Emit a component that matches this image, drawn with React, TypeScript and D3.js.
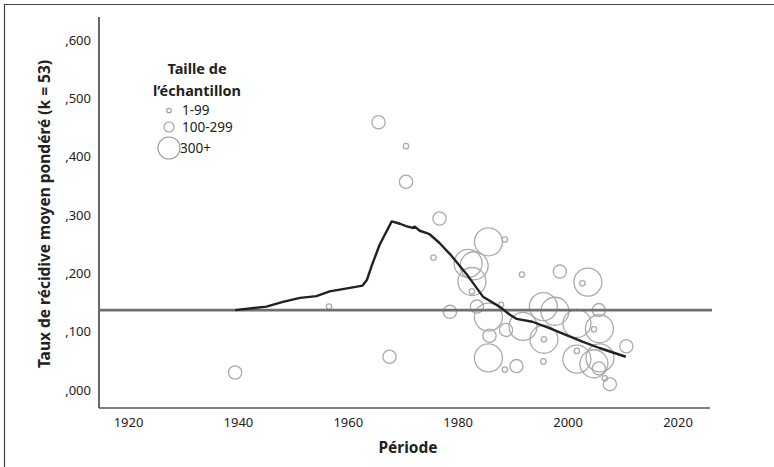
import { useEffect, useRef } from 'react';
import * as d3 from 'd3';

// Loess trend line (year, weighted recidivism rate)
const trendYears = [1939.4, 1945.1, 1948.1, 1951.2, 1954.2, 1956.6, 1959.0, 1962.6, 1963.4, 1964.3, 1965.7, 1967.9, 1969.4, 1970.5, 1971.7, 1972.1, 1973.0, 1974.3, 1974.8, 1976.6, 1978.5, 1981.5, 1984.5, 1987.5, 1989.4, 1990.6, 1993.5, 1996.6, 1999.7, 2002.6, 2005.7, 2010.5];
const trendValues = [0.137, 0.143, 0.151, 0.158, 0.161, 0.169, 0.173, 0.179, 0.189, 0.214, 0.249, 0.289, 0.285, 0.281, 0.278, 0.280, 0.273, 0.269, 0.267, 0.252, 0.233, 0.199, 0.160, 0.143, 0.129, 0.122, 0.117, 0.106, 0.094, 0.083, 0.072, 0.057];

// Individual studies: year, rate, sample size class (0: 1-99, 1: 100-299, 2: 300+)
const studyYears = [1939.4, 1956.5, 1965.5, 1970.5, 1970.5, 1967.5, 1976.6, 1975.5, 1985.5, 1988.5, 1981.8, 1982.9, 1982.5, 1982.5, 1991.6, 1998.5, 2003.6, 2002.6, 1978.5, 1983.4, 1987.8, 1985.5, 1995.5, 1997.6, 2005.6, 1991.8, 1988.7, 1985.7, 2001.6, 2005.7, 2004.7, 1995.6, 1995.6, 2010.6, 1985.5, 1988.5, 1990.6, 1995.5, 2001.6, 2001.6, 2004.7, 2005.8, 2005.6, 2006.7, 2007.6];
const studyValues = [0.030, 0.143, 0.459, 0.418, 0.357, 0.057, 0.294, 0.227, 0.254, 0.258, 0.217, 0.213, 0.186, 0.169, 0.198, 0.203, 0.185, 0.183, 0.134, 0.143, 0.146, 0.125, 0.143, 0.135, 0.137, 0.109, 0.103, 0.093, 0.114, 0.105, 0.104, 0.087, 0.087, 0.075, 0.055, 0.035, 0.041, 0.049, 0.053, 0.067, 0.045, 0.055, 0.037, 0.020, 0.010];
const studySizes = [1, 0, 1, 0, 1, 1, 1, 0, 2, 0, 2, 2, 2, 0, 0, 1, 2, 0, 1, 1, 0, 2, 2, 2, 1, 2, 1, 1, 2, 2, 0, 2, 0, 1, 2, 0, 1, 0, 2, 0, 2, 2, 1, 0, 1];

const meanRate = 0.137;

const xTicks = [1920, 1940, 1960, 1980, 2000, 2020];
const yTicks = [0, 0.1, 0.2, 0.3, 0.4, 0.5, 0.6];
const sizeLabels = ['1-99', '100-299', '300+'];

export default function App() {
  const ref = useRef<SVGSVGElement>(null);

  useEffect(() => {
    if (!ref.current) return;
    const svg = d3.select(ref.current);
    svg.selectAll('*').remove();

    const width = 774;
    const height = 467;
    const font = '"Noto Sans", sans-serif';

    svg.attr('width', width).attr('height', height);

    // outer frame (only left and top edges visible)
    svg.append('path')
      .attr('d', `M4.5,${height} V4.5 H${width}`)
      .attr('fill', 'none')
      .attr('stroke', '#444')
      .attr('stroke-width', 1.2);

    const x = d3.scaleLinear().domain([1920, 2020]).range([128.5, 678]);
    const y = d3.scaleLinear().domain([0, 0.6]).range([390, 40]);
    const r = d3.scaleOrdinal<number, number>().domain([0, 1, 2]).range([2.7, 6.6, 14]);

    const xLeft = 99;
    const xRight = 710;
    const yBottom = 408;
    const yTop = 17;

    // axes
    svg.append('line')
      .attr('x1', xLeft).attr('x2', xLeft).attr('y1', yTop).attr('y2', yBottom)
      .attr('stroke', '#333').attr('stroke-width', 1.5);
    svg.append('line')
      .attr('x1', xLeft).attr('x2', xRight).attr('y1', yBottom).attr('y2', yBottom)
      .attr('stroke', '#555').attr('stroke-width', 1.5);

    svg.append('g')
      .selectAll('text')
      .data(yTicks)
      .join('text')
      .attr('x', 91)
      .attr('y', d => y(d))
      .attr('dy', '0.35em')
      .attr('text-anchor', 'end')
      .style('font-family', font)
      .style('font-size', '13px')
      .style('fill', '#222')
      .text(d => ',' + d3.format('.3f')(d).split('.')[1]);

    svg.append('g')
      .selectAll('text')
      .data(xTicks)
      .join('text')
      .attr('x', d => x(d))
      .attr('y', 427)
      .attr('text-anchor', 'middle')
      .style('font-family', font)
      .style('font-size', '13px')
      .style('fill', '#222')
      .text(d => d);

    // axis titles
    svg.append('text')
      .attr('transform', 'translate(50,214) rotate(-90)')
      .attr('text-anchor', 'middle')
      .style('font-family', font)
      .style('font-size', '15.5px')
      .style('font-weight', 'bold')
      .style('fill', '#222')
      .text('Taux de récidive moyen pondéré (k = 53)');

    svg.append('text')
      .attr('x', 408)
      .attr('y', 453)
      .attr('text-anchor', 'middle')
      .style('font-family', font)
      .style('font-size', '15.5px')
      .style('font-weight', 'bold')
      .style('fill', '#222')
      .text('Période');

    // study bubbles
    const studies = studyYears.map((yr, i) => ({ yr, v: studyValues[i], s: studySizes[i] }));
    svg.append('g')
      .selectAll('circle')
      .data(studies)
      .join('circle')
      .attr('cx', d => x(d.yr))
      .attr('cy', d => y(d.v))
      .attr('r', d => r(d.s))
      .attr('fill', 'none')
      .attr('stroke', '#ababab')
      .attr('stroke-width', 1.3);

    // mean reference line
    svg.append('line')
      .attr('x1', xLeft).attr('x2', xRight + 2)
      .attr('y1', y(meanRate)).attr('y2', y(meanRate))
      .attr('stroke', '#6f6f6f').attr('stroke-width', 2.6);

    // trend line
    const line = d3.line<number>()
      .x(d => x(d))
      .y((d, i) => y(trendValues[i]));
    svg.append('path')
      .datum(trendYears)
      .attr('d', line)
      .attr('fill', 'none')
      .attr('stroke', '#222')
      .attr('stroke-width', 2.4)
      .attr('stroke-linejoin', 'round');

    // legend
    const legend = svg.append('g');
    legend.append('text')
      .attr('x', 197).attr('y', 74)
      .attr('text-anchor', 'middle')
      .style('font-family', font).style('font-size', '14.5px').style('font-weight', 'bold')
      .style('fill', '#222')
      .text('Taille de');
    legend.append('text')
      .attr('x', 197).attr('y', 96)
      .attr('text-anchor', 'middle')
      .style('font-family', font).style('font-size', '14.5px').style('font-weight', 'bold')
      .style('fill', '#222')
      .text('l’échantillon');

    const legendR = [2.3, 5, 11];
    const legendCy = [110.5, 127, 148];
    const legendTx = [182, 182, 180];
    sizeLabels.forEach((label, i) => {
      legend.append('circle')
        .attr('cx', 169).attr('cy', legendCy[i]).attr('r', legendR[i])
        .attr('fill', 'none').attr('stroke', '#999').attr('stroke-width', 1.1);
      legend.append('text')
        .attr('x', legendTx[i]).attr('y', legendCy[i])
        .attr('dy', '0.36em')
        .style('font-family', font).style('font-size', '13.5px')
        .style('fill', '#222')
        .text(label);
    });
  }, []);

  return (
    <div style={{ position: 'absolute', left: 0, top: 0 }}>
      <svg ref={ref} style={{ display: 'block' }}></svg>
    </div>
  );
}
